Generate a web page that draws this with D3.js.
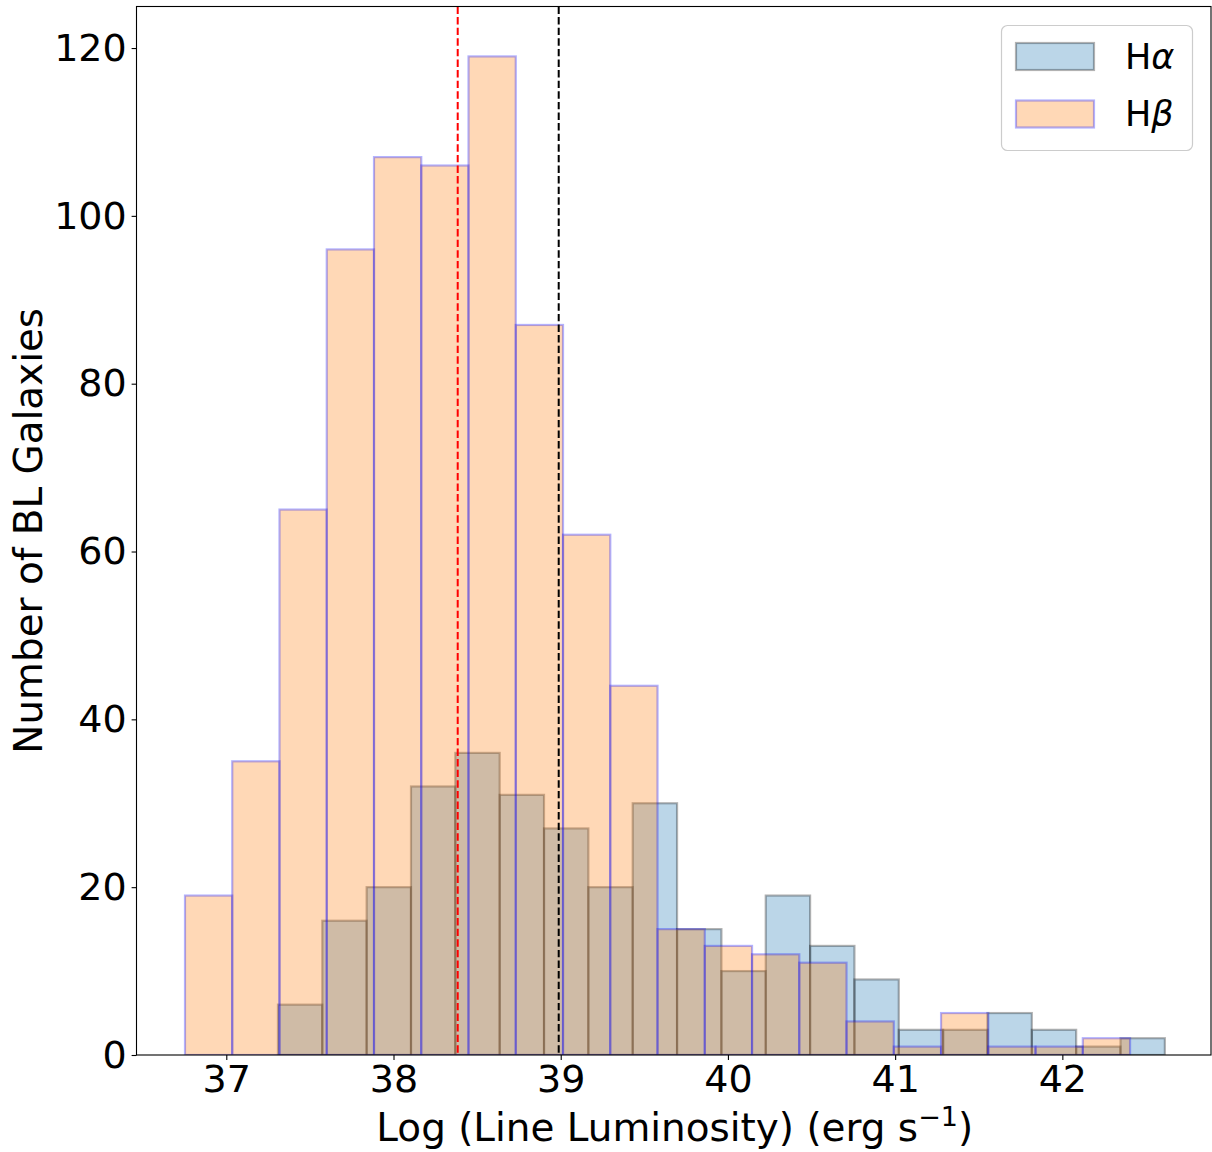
<!DOCTYPE html>
<html>
<head>
<meta charset="utf-8">
<script src="https://cdn.jsdelivr.net/npm/d3@7"></script>
<style>
  html, body { margin: 0; padding: 0; background: #ffffff; }
  svg { display: block; font-family: "DejaVu Sans", sans-serif; }
</style>
</head>
<body>
<svg id="chart" width="1212" height="1152"></svg>
<script>
// Histogram counts per bin (20 bins each)
const haCounts = [6, 16, 20, 32, 36, 31, 27, 20, 30, 15, 10, 19, 13, 9, 3, 3, 5, 3, 1, 2];
const hbCounts = [19, 35, 65, 96, 107, 106, 119, 87, 62, 44, 15, 13, 12, 11, 4, 1, 5, 1, 1, 2];

// Bin layout: first edge and bin width in log luminosity
const haBinStart = 37.309;
const haBinWidth = 0.2652;
const hbBinStart = 36.753;
const hbBinWidth = 0.2826;

// Reference luminosity markers
const redLine = 38.384;
const blackLine = 38.988;

const xTicks = [37, 38, 39, 40, 41, 42];
const yTicks = [0, 20, 40, 60, 80, 100, 120];

const xDomain = [36.463, 42.889];
const yMax = 124.95;

const svg = d3.select("#chart");
const plot = { left: 136.5, right: 1211, top: 6.5, bottom: 1055 };

const x = d3.scaleLinear().domain(xDomain).range([plot.left, plot.right]);
const y = d3.scaleLinear().domain([0, yMax]).range([plot.bottom, plot.top]);

const toBins = (counts, start, width) =>
  counts.map((c, i) => ({ x0: start + i * width, x1: start + (i + 1) * width, count: c }));

const haBins = toBins(haCounts, haBinStart, haBinWidth);
const hbBins = toBins(hbCounts, hbBinStart, hbBinWidth);

const series = [
  { name: "ha", bins: haBins, fill: "#1f77b4", stroke: "#000000" },
  { name: "hb", bins: hbBins, fill: "#ff7f0e", stroke: "#0000ff" }
];

svg.append("defs").append("clipPath").attr("id", "plotClip")
  .append("rect")
  .attr("x", plot.left).attr("y", plot.top)
  .attr("width", plot.right - plot.left).attr("height", plot.bottom - plot.top);

const bars = svg.append("g").attr("clip-path", "url(#plotClip)");
series.forEach(s => {
  bars.append("g").attr("class", s.name)
    .selectAll("rect")
    .data(s.bins)
    .join("rect")
    .attr("x", d => x(d.x0))
    .attr("y", d => y(d.count))
    .attr("width", d => x(d.x1) - x(d.x0))
    .attr("height", d => y(0) - y(d.count))
    .attr("fill", s.fill)
    .attr("fill-opacity", 0.3)
    .attr("stroke", s.stroke)
    .attr("stroke-opacity", 0.3)
    .attr("stroke-width", 2.2);
});

// Dashed marker lines
[{ v: redLine, c: "#ff0000" }, { v: blackLine, c: "#000000" }].forEach(l => {
  svg.append("line")
    .attr("x1", x(l.v)).attr("x2", x(l.v))
    .attr("y1", plot.top).attr("y2", plot.bottom)
    .attr("stroke", l.c)
    .attr("stroke-width", 2)
    .attr("stroke-dasharray", "7.4,3.2");
});

// Axes
const tickLen = 4.9;
const xAxis = svg.append("g")
  .attr("transform", `translate(0,${plot.bottom})`)
  .call(d3.axisBottom(x).tickValues(xTicks).tickFormat(d3.format("d"))
    .tickSize(tickLen).tickPadding(4.9).tickSizeOuter(0));
const yAxis = svg.append("g")
  .attr("transform", `translate(${plot.left},0)`)
  .call(d3.axisLeft(y).tickValues(yTicks).tickFormat(d3.format("d"))
    .tickSize(tickLen).tickPadding(4.9).tickSizeOuter(0));

[xAxis, yAxis].forEach(a => {
  a.select(".domain").remove();
  a.selectAll(".tick line").attr("stroke", "#000").attr("stroke-width", 1.1);
  a.selectAll(".tick text")
    .attr("fill", "#000")
    .style("font-family", "'DejaVu Sans', sans-serif")
    .style("font-size", "38px");
});

// Frame
svg.append("rect")
  .attr("x", plot.left).attr("y", plot.top)
  .attr("width", plot.right - plot.left).attr("height", plot.bottom - plot.top)
  .attr("fill", "none").attr("stroke", "#000").attr("stroke-width", 1.1);

// Axis labels
const xLabel = svg.append("text")
  .attr("x", (plot.left + plot.right) / 2 + 1)
  .attr("y", 1141)
  .attr("text-anchor", "middle")
  .style("font-size", "38.9px")
  .attr("fill", "#000");
xLabel.append("tspan").text("Log (Line Luminosity) (erg s");
xLabel.append("tspan").attr("dy", -15).style("font-size", "27px").text("\u22121");
xLabel.append("tspan").attr("dy", 15).text(")");

svg.append("text")
  .attr("transform", `translate(42,${(plot.top + plot.bottom) / 2}) rotate(-90)`)
  .attr("text-anchor", "middle")
  .style("font-size", "38.9px")
  .attr("fill", "#000")
  .text("Number of BL Galaxies");

// Legend
const legend = svg.append("g");
legend.append("rect")
  .attr("x", 1001.5).attr("y", 25.5)
  .attr("width", 191).attr("height", 125)
  .attr("rx", 6).attr("ry", 6)
  .attr("fill", "#ffffff").attr("fill-opacity", 0.8)
  .attr("stroke", "#cccccc").attr("stroke-width", 1.2);

const legendItems = [
  { s: series[0], greek: "\u03b1", top: 43, base: 69 },
  { s: series[1], greek: "\u03b2", top: 100.5, base: 126 }
];
legendItems.forEach(it => {
  legend.append("rect")
    .attr("x", 1016).attr("y", it.top)
    .attr("width", 78).attr("height", 27)
    .attr("fill", it.s.fill).attr("fill-opacity", 0.3)
    .attr("stroke", it.s.stroke).attr("stroke-opacity", 0.3)
    .attr("stroke-width", 2.2);
  const t = legend.append("text")
    .attr("x", 1125).attr("y", it.base)
    .style("font-size", "35px")
    .attr("fill", "#000");
  t.append("tspan").text("H");
  t.append("tspan").style("font-style", "italic").text(it.greek);
});
</script>
</body>
</html>
